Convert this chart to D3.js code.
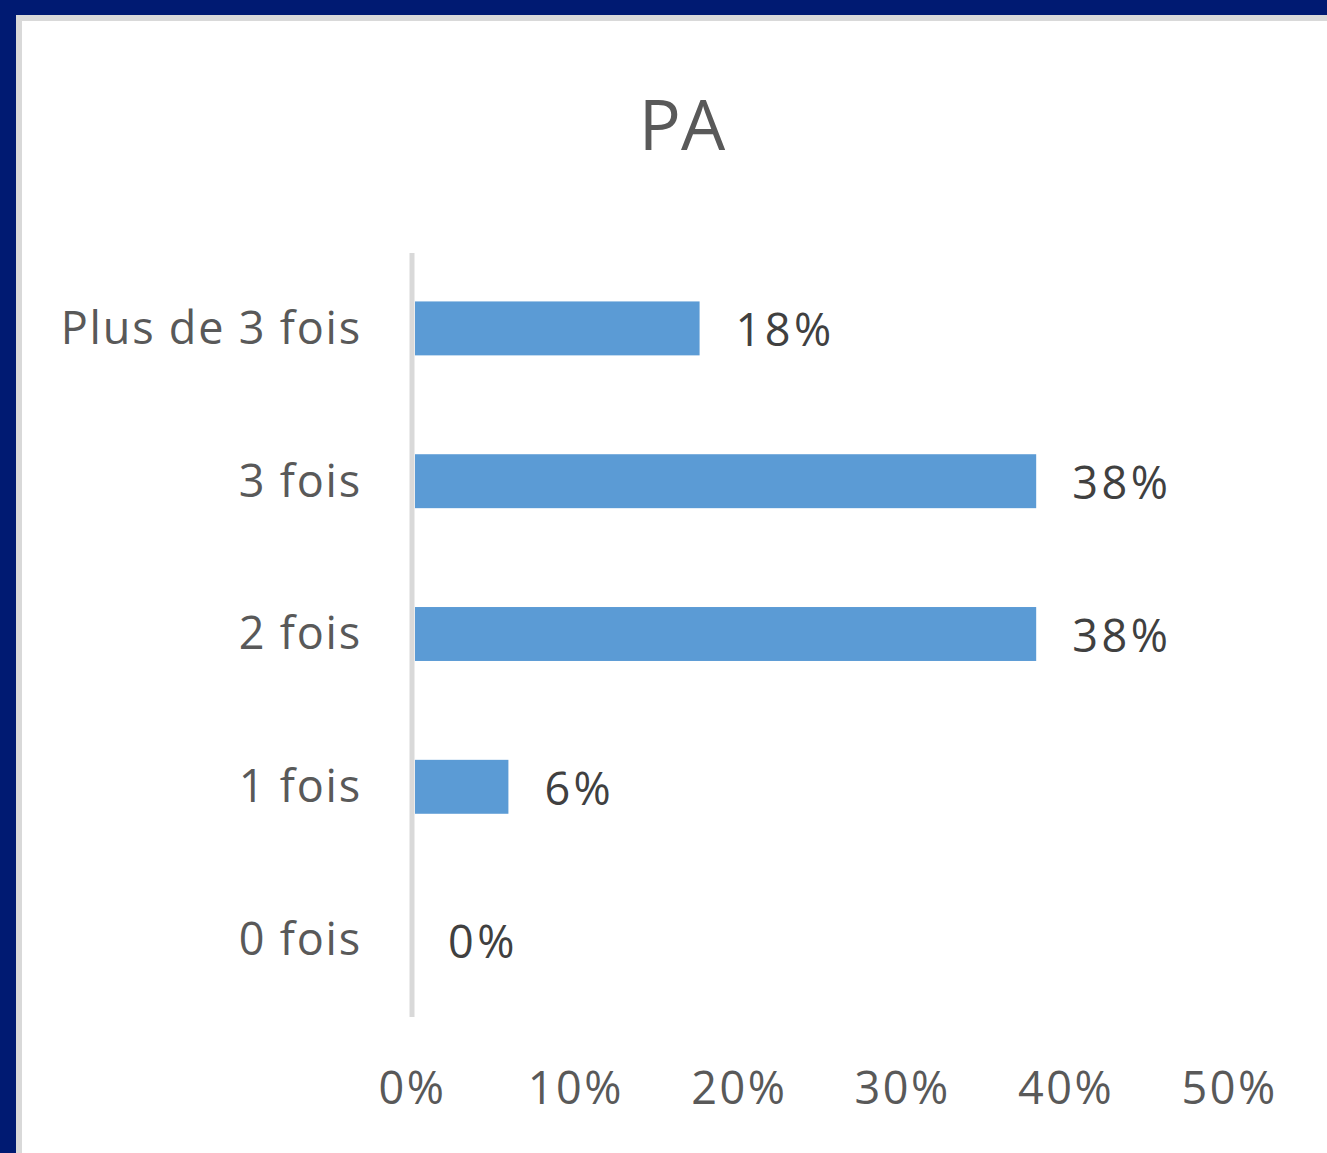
<!DOCTYPE html>
<html>
<head>
<meta charset="utf-8">
<script src="https://cdnjs.cloudflare.com/ajax/libs/d3/7.8.5/d3.min.js"></script>
<style>
  html, body { margin: 0; padding: 0; background: #ffffff; }
  svg { display: block; }
  text { font-family: "Open Sans", "Noto Sans", sans-serif; }
</style>
</head>
<body>
<div id="chart"></div>
<script>
var width = 1327
var height = 1153

// data (counts out of 34 answers -> shares)
var categories = ["Plus de 3 fois", "3 fois", "2 fois", "1 fois", "0 fois"]
var values = [0.176, 0.382, 0.382, 0.059, 0]
var valueLabels = ["18%", "38%", "38%", "6%", "0%"]
var xTicks = [0, 0.1, 0.2, 0.3, 0.4, 0.5]
var title = "PA"

var margin = {left: 412, right: 1327 - 1229, top: 253, bottom: 1153 - 1017}

var svg = d3.select("#chart")
  .append("svg")
  .attr("width", width)
  .attr("height", height)

// frame
svg.append("rect").attr("width", width).attr("height", height).attr("fill", "#001a72")
svg.append("rect").attr("x", 16).attr("y", 15).attr("width", width - 16).attr("height", height - 15).attr("fill", "#d9d9d9")
svg.append("rect").attr("x", 22).attr("y", 21).attr("width", width - 22).attr("height", height - 21).attr("fill", "#ffffff")

svg.append("text")
  .text(title)
  .attr("x", 682)
  .attr("y", 150)
  .attr("text-anchor", "middle")
  .attr("font-size", "70px")
  .attr("fill", "#595959")

var x = d3.scaleLinear()
  .domain([0, 0.5])
  .range([margin.left, width - margin.right])

var y = d3.scaleBand()
  .domain(categories)
  .range([margin.top, height - margin.bottom])
  .paddingInner(0.647)
  .paddingOuter(0.3235)

// bars
svg.selectAll(".bar")
  .data(categories)
  .enter()
  .append("rect")
  .attr("class", "bar")
  .attr("x", x(0) + 3)
  .attr("y", function(d) { return y(d) - 1 })
  .attr("width", function(d, i) { return Math.max(0, x(values[i]) - x(0) - 3) })
  .attr("height", y.bandwidth())
  .attr("fill", "#5b9bd5")

// value labels
svg.selectAll(".val")
  .data(categories)
  .enter()
  .append("text")
  .attr("class", "val")
  .text(function(d, i) { return valueLabels[i] })
  .attr("x", function(d, i) { return x(values[i]) + 36 })
  .attr("y", function(d) { return y(d) + y.bandwidth() / 2 + 17 })
  .attr("font-size", "45px")
  .attr("letter-spacing", "3.5px")
  .attr("fill", "#404040")

// y axis
var yAxis = d3.axisLeft(y).tickSize(0).tickPadding(50)
var gy = svg.append("g")
  .attr("transform", "translate(" + x(0) + ",0)")
  .call(yAxis)
gy.select(".domain").attr("stroke", "#d9d9d9").attr("stroke-width", 5)
  .attr("d", "M0," + margin.top + "V" + (height - margin.bottom))
gy.selectAll("text")
  .attr("font-size", "45px")
  .attr("letter-spacing", "1.8px")
  .attr("font-family", "'Open Sans', sans-serif")
  .attr("fill", "#595959")

// x axis
var xAxis = d3.axisBottom(x).tickValues(xTicks).tickFormat(d3.format(".0%")).tickSize(0).tickPadding(55)
var gx = svg.append("g")
  .attr("transform", "translate(0," + (height - margin.bottom) + ")")
  .call(xAxis)
gx.select(".domain").remove()
gx.selectAll("text")
  .attr("font-size", "45px")
  .attr("letter-spacing", "2.5px")
  .attr("font-family", "'Open Sans', sans-serif")
  .attr("fill", "#595959")
</script>
</body>
</html>
